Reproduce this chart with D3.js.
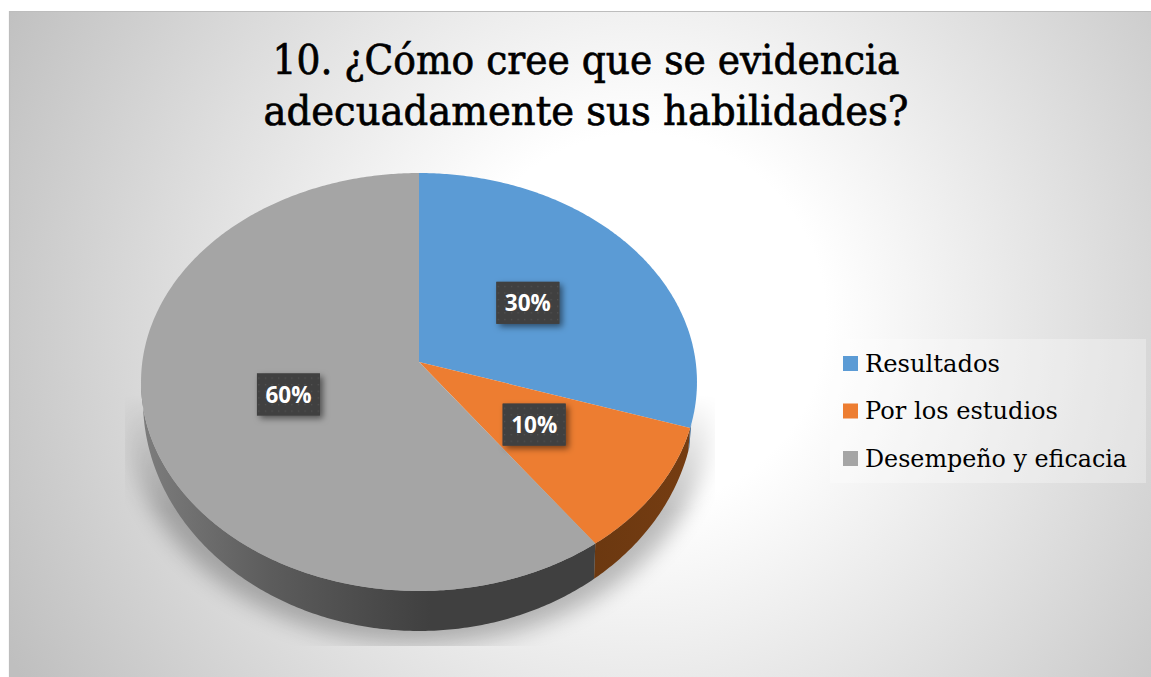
<!DOCTYPE html>
<html><head><meta charset="utf-8">
<script src="https://cdnjs.cloudflare.com/ajax/libs/d3/7.8.5/d3.min.js"></script>
<style>html,body{margin:0;padding:0;background:#fff}svg{display:block}</style>
</head><body><svg id="c" width="1151" height="677"></svg>
<script>
const titleLines = ["10. ¿Cómo cree que se evidencia", "adecuadamente sus habilidades?"];
const categories = ["Resultados", "Por los estudios", "Desempeño y eficacia"];
const values = [30, 10, 60];
const labels = ["30%", "10%", "60%"];
const colors = ["#5b9bd5", "#ed7d31", "#a5a5a5"];
const sideColors = ["#2f5f8f", "url(#sideOrange)", "url(#sideGrey)"];

const svg = d3.select("#c");
const defs = svg.append("defs");
const serif = "'DejaVu Serif','Liberation Serif',serif";

// background
const bg = defs.append("radialGradient").attr("id","bg").attr("gradientUnits","userSpaceOnUse")
  .attr("cx",640).attr("cy",320).attr("r",715);
[[0,"#ffffff"],[0.26,"#ffffff"],[0.55,"#e6e6e6"],[1,"#bfbfbf"]].forEach(s=>bg.append("stop").attr("offset",s[0]).attr("stop-color",s[1]));
svg.append("rect").attr("x",9).attr("y",11).attr("width",1142).attr("height",666).attr("fill","url(#bg)");
svg.append("path").attr("d","M9.5 677V11.5H1151").attr("fill","none").attr("stroke","#bdbdbd").attr("stroke-width",1.2);

// perspective pie projection: unit circle -> screen
const tilt = -0.0957;
const topDisc = {k:276.7, y0:362, a:172.4};
const botDisc = {k:274.7, y0:379, a:191.6};
const cx = 419;
function project(d, theta, t=1){
  const x = t*Math.sin(theta), y = -t*Math.cos(theta), w = 1+tilt*y;
  return [cx + d.k*x/w, (d.y0 + d.a*y)/w];
}
const pieGen = d3.pie().sort(null).value(d=>d);
const arcs = pieGen(values);
const line = d3.line();
const sweep = (d,a0,a1)=>{
  const n = Math.max(2,Math.ceil((a1-a0)/0.01));
  return d3.range(n+1).map(i=>project(d,a0+(a1-a0)*i/n));
};

// shadow
const blur = defs.append("filter").attr("id","blur").attr("x","-20%").attr("y","-20%").attr("width","140%").attr("height","140%");
blur.append("feGaussianBlur").attr("stdDeviation",11);
const fade = defs.append("linearGradient").attr("id","fade").attr("gradientUnits","userSpaceOnUse").attr("x1",0).attr("x2",0).attr("y1",395).attr("y2",510);
[[0,"#000"],[1,"#fff"]].forEach(s=>fade.append("stop").attr("offset",s[0]).attr("stop-color",s[1]));
defs.append("mask").attr("id","shadowMask").attr("maskUnits","userSpaceOnUse").attr("x",0).attr("y",0).attr("width",1151).attr("height",677)
  .append("rect").attr("x",125).attr("y",380).attr("width",590).attr("height",266).attr("fill","url(#fade)");
svg.append("g").attr("mask","url(#shadowMask)")
  .append("ellipse").attr("cx",419).attr("cy",416).attr("rx",291).attr("ry",228)
  .attr("fill","#000").attr("opacity",.26).attr("filter","url(#blur)");

// side gradients
const sg = defs.append("linearGradient").attr("id","sideGrey").attr("gradientUnits","userSpaceOnUse").attr("x1",141).attr("x2",430).attr("y1",0).attr("y2",0);
[[0,"#7d7d7d"],[0.45,"#5c5c5c"],[1,"#404040"]].forEach(s=>sg.append("stop").attr("offset",s[0]).attr("stop-color",s[1]));
const so = defs.append("linearGradient").attr("id","sideOrange").attr("gradientUnits","userSpaceOnUse").attr("x1",590).attr("x2",695).attr("y1",0).attr("y2",0);
[[0,"#6b3810"],[1,"#763d12"]].forEach(s=>so.append("stop").attr("offset",s[0]).attr("stop-color",s[1]));

// side walls (only the visible front of the rim)
const frontA = 107*Math.PI/180, frontB = 264.5*Math.PI/180;
svg.append("g").selectAll("path").data(arcs).join("path")
  .attr("fill",(d,i)=>sideColors[i])
  .attr("d",d=>{
    const a0=Math.max(d.startAngle,frontA), a1=Math.min(d.endAngle,frontB);
    if(a1<=a0) return null;
    return line(sweep(topDisc,a0,a1).concat(sweep(botDisc,a0,a1).reverse()))+"Z";
  });

// top slices
svg.append("g").selectAll("path").data(arcs).join("path")
  .attr("fill",(d,i)=>colors[i])
  .attr("d",d=>line([[cx,topDisc.y0]].concat(sweep(topDisc,d.startAngle,d.endAngle)))+"Z");

// data labels
const sh = defs.append("filter").attr("id","boxShadow").attr("x","-30%").attr("y","-30%").attr("width","170%").attr("height","170%");
sh.append("feDropShadow").attr("dx",3).attr("dy",3).attr("stdDeviation",3).attr("flood-color","#000").attr("flood-opacity",.5);
const pat = defs.append("pattern").attr("id","dots").attr("patternUnits","userSpaceOnUse").attr("width",6.6).attr("height",6.6);
pat.append("rect").attr("width",6.6).attr("height",6.6).attr("fill","#404040");
pat.append("rect").attr("x",3).attr("y",3).attr("width",1).attr("height",1).attr("fill","#5c5c5c");
const lab = svg.append("g").selectAll("g").data(arcs).join("g").attr("transform",(d,i)=>{
  const m=(d.startAngle+d.endAngle)/2, p=project(topDisc,m,0.5);
  return `translate(${p[0]+(i==2?3:0)},${p[1]})`;
});
lab.append("rect").attr("x",-31.5).attr("y",-21).attr("width",63).attr("height",42).attr("fill","#404040").attr("filter","url(#boxShadow)");
lab.append("rect").attr("x",-31.5).attr("y",-21).attr("width",63).attr("height",42).attr("fill","url(#dots)");
lab.append("text").attr("text-anchor","middle").attr("y",8.5).attr("fill","#fff")
  .attr("font-family","'Open Sans',sans-serif").attr("font-weight",700).attr("font-size",22.5).text((d,i)=>labels[i]);

// title
const titleWidths=[627,645];
svg.append("g").selectAll("text").data(titleLines).join("text")
  .attr("x",586).attr("y",(d,i)=>74+i*51).attr("text-anchor","middle").attr("fill","#000")
  .attr("stroke","#000").attr("stroke-width",0.7)
  .attr("font-family",serif).attr("font-size",41)
  .attr("textLength",(d,i)=>titleWidths[i]).attr("lengthAdjust","spacingAndGlyphs").text(d=>d);

// legend
svg.append("rect").attr("x",830).attr("y",339).attr("width",316).attr("height",144).attr("fill","#fff").attr("opacity",.3);
const ly = d3.scalePoint().domain(categories).range([363.5,458.5]);
const legendWidths=[135,193,262];
const lg = svg.append("g").selectAll("g").data(categories).join("g").attr("transform",d=>`translate(843,${ly(d)})`);
lg.append("rect").attr("y",-7.5).attr("width",15).attr("height",15).attr("fill",(d,i)=>colors[i]);
lg.append("text").attr("x",22).attr("y",8).attr("fill","#000").attr("font-family",serif).attr("font-size",24)
  .attr("textLength",(d,i)=>legendWidths[i]).attr("lengthAdjust","spacingAndGlyphs").text(d=>d);
</script></body></html>
